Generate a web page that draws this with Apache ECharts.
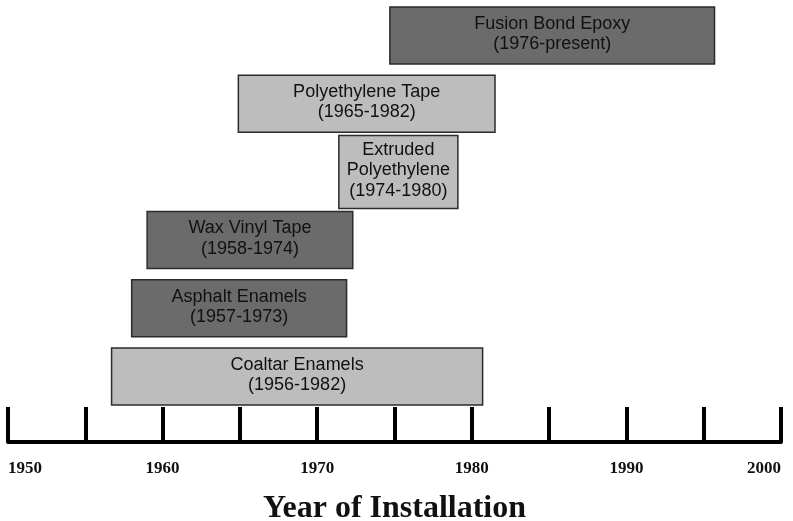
<!DOCTYPE html>
<html>
<head>
<meta charset="utf-8">
<script src="https://cdn.jsdelivr.net/npm/echarts@6/dist/echarts.min.js"></script>
<style>html,body{margin:0;padding:0;background:#fff;overflow:hidden}#c{width:793px;height:521px}</style>
</head>
<body>
<div id="c"></div>
<script>
// ---- data ----
const coatings = ['Coaltar Enamels', 'Asphalt Enamels', 'Wax Vinyl Tape', 'Extruded\nPolyethylene', 'Polyethylene Tape', 'Fusion Bond Epoxy'];
const periods = ['(1956-1982)', '(1957-1973)', '(1958-1974)', '(1974-1980)', '(1965-1982)', '(1976-present)'];
const startYear = [1956.7, 1958.0, 1959.0, 1971.4, 1964.9, 1974.7];
const endYear = [1980.7, 1971.9, 1972.3, 1979.1, 1981.5, 1995.7];
const yearTicks = [1950, 1960, 1970, 1980, 1990, 2000];

// ---- styling ----
const fills = ['#bdbdbd', '#6b6b6b', '#6b6b6b', '#bdbdbd', '#bdbdbd', '#6b6b6b'];

const seriesData = coatings.map((c, i) => [i, startYear[i], endYear[i]]);

const chart = echarts.init(document.getElementById('c'), null, {renderer: 'canvas', width: 793, height: 521});
chart.setOption({
  backgroundColor: '#ffffff',
  animation: false,
  grid: {left: 8, right: 12, top: 1.4, bottom: 79, containLabel: false, outerBoundsMode: 'none'},
  xAxis: {
    type: 'value', min: 1950, max: 2000, interval: 5,
    splitLine: {show: false},
    axisLine: {show: true, onZero: false, lineStyle: {color: '#000', width: 4}},
    axisTick: {show: true, inside: true, length: 35, lineStyle: {color: '#000', width: 4}},
    axisLabel: {
      margin: 18, color: '#111', fontFamily: 'Liberation Serif', fontWeight: 'bold', fontSize: 17,
      alignMinLabel: 'left', alignMaxLabel: 'right',
      formatter: v => yearTicks.includes(v) ? String(v) : ''
    },
    name: 'Year of Installation', nameLocation: 'middle', nameGap: 51,
    nameTextStyle: {fontFamily: 'Liberation Serif', fontWeight: 'bold', fontSize: 32, color: '#111'}
  },
  yAxis: {type: 'value', min: -0.96, max: 5.5, show: false, splitLine: {show: false}},
  series: [{
    type: 'custom',
    data: seriesData,
    encode: {x: [1, 2], y: 0},
    renderItem: function (params, api) {
      const row = api.value(0);
      const p0 = api.coord([api.value(1), row]);
      const p1 = api.coord([api.value(2), row]);
      const name = coatings[params.dataIndex];
      const lines = name.split('\n').length + 1;
      const h = api.size([0, 1])[1] * (lines > 2 ? 1.07 : 0.836);
      return {
        type: 'group',
        children: [{
          type: 'rect',
          shape: {x: p0[0], y: p0[1] - h / 2, width: p1[0] - p0[0], height: h},
          style: {fill: fills[params.dataIndex], stroke: '#2b2b2b', lineWidth: 1.5}
        }, {
          type: 'text',
          style: {
            text: name + '\n' + periods[params.dataIndex],
            x: (p0[0] + p1[0]) / 2, y: p0[1] - 1.5,
            align: 'center', verticalAlign: 'middle',
            fontFamily: 'Liberation Sans', fontSize: 18, lineHeight: 20.5, fill: '#111111'
          }
        }]
      };
    }
  }]
});
</script>
</body>
</html>
